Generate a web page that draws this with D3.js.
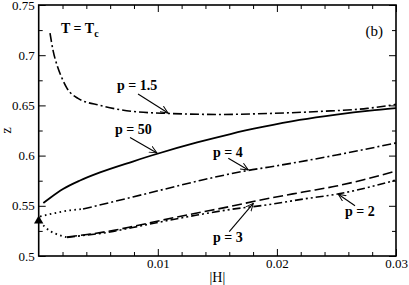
<!DOCTYPE html>
<html>
<head>
<meta charset="utf-8">
<script src="https://cdn.jsdelivr.net/npm/d3@7/dist/d3.min.js"></script>
<style>
body{margin:0;background:#fff}
svg{display:block}
</style>
</head>
<body>
<div id="chart"></div>
<script>
// ticks
const xTicks = [0.01, 0.02, 0.03];
const xTickLabels = ["0.01", "0.02", "0.03"];
const xMinor = [0.002, 0.004, 0.006, 0.008, 0.012, 0.014, 0.016, 0.018, 0.022, 0.024, 0.026, 0.028];
const yTicks = [0.5, 0.55, 0.6, 0.65, 0.7, 0.75];
const yTickLabels = ["0.5", "0.55", "0.6", "0.65", "0.7", "0.75"];
const yMinor = [0.525, 0.575, 0.625, 0.675, 0.725];

// curves [|H|, z]
const p15 = [[0.00095,0.722],[0.0012,0.705],[0.00154,0.690],[0.00196,0.677],[0.00238,0.667],[0.0033,0.657],
  [0.00515,0.650],[0.0079,0.644],[0.0109,0.642],[0.0152,0.641],[0.0194,0.642],[0.0236,0.644],[0.0276,0.647],[0.030,0.651]];
const p50 = [[0.00039,0.5528],[0.00095,0.5578],[0.00204,0.5667],[0.00347,0.5752],[0.00515,0.5832],[0.0079,0.5941],
  [0.0099,0.6016],[0.0133,0.6131],[0.0161,0.6215],[0.0188,0.6285],[0.0219,0.6355],[0.0250,0.6409],[0.0278,0.6449],[0.030,0.6474]];
const p4 = [[0.00372,0.5468],[0.00599,0.5533],[0.0079,0.5588],[0.01044,0.5662],[0.01355,0.5752],[0.01757,0.5852],
  [0.0194,0.5887],[0.0250,0.6006],[0.030,0.6126]];
const p4Dot = [[0.00011,0.5393],[0.00137,0.5428],[0.00263,0.5455],[0.00372,0.5468]];
const p3 = [[0.00238,0.5189],[0.00406,0.5214],[0.00599,0.5249],[0.0079,0.5294],[0.01044,0.5359],[0.0133,0.5428],
  [0.01607,0.5493],[0.01884,0.5563],[0.0222,0.5637],[0.0250,0.5697],[0.0272,0.5757],[0.030,0.5847]];
const p2 = [[0.00238,0.5184],[0.00406,0.5209],[0.00599,0.5239],[0.0079,0.5284],[0.01044,0.5344],[0.0133,0.5408],
  [0.01607,0.5463],[0.0194,0.5513],[0.0222,0.5567],[0.0253,0.5622],[0.0278,0.5687],[0.030,0.5757]];
const lowDot = [[0.0001,0.5344],[0.00053,0.5289],[0.00095,0.5249],[0.00137,0.5224],[0.00196,0.5199],[0.00238,0.5187]];
const triangle = [0, 0.535];

// annotations
const labelNames = ["p = 1.5", "p = 50", "p = 4", "p = 3", "p = 2"];
const labelPos = [[0.00657,0.6658],[0.00641,0.6215],[0.01463,0.5991],[0.01463,0.5139],[0.02572,0.5403]];
const arrowFrom = [[0.00834,0.6614],[0.00767,0.6180],[0.01592,0.5973],[0.0160,0.5242],[0.02656,0.5501]];
const arrowTo = [[0.01086,0.6424],[0.00993,0.6026],[0.0176,0.5857],[0.01802,0.5525],[0.02515,0.5615]];
const tcPos = [0.00187, 0.7221];
const panelPos = [0.0289, 0.7191];

const width = 409, height = 285;
const marginTop = 5, marginRight = 13, marginBottom = 29, marginLeft = 38.7;
const serif = "'Liberation Serif', 'Times New Roman', Times, serif";

const x = d3.scaleLinear().domain([0, 0.03]).range([marginLeft, width - marginRight]);
const y = d3.scaleLinear().domain([0.5, 0.75]).range([height - marginBottom, marginTop]);

const svg = d3.select("#chart").append("svg")
  .attr("width", width).attr("height", height)
  .attr("viewBox", [0, 0, width, height])
  .attr("font-family", serif);

svg.append("defs").append("marker")
  .attr("id", "arr")
  .attr("markerUnits", "userSpaceOnUse")
  .attr("viewBox", "0 0 10 10")
  .attr("refX", 9.5).attr("refY", 5)
  .attr("markerWidth", 8).attr("markerHeight", 8)
  .attr("orient", "auto")
  .append("path")
  .attr("d", "M0,0.8L9.5,5L0,9.2")
  .attr("fill", "none").attr("stroke", "#000").attr("stroke-width", 1.2);

const line = d3.line().x(d => x(d[0])).y(d => y(d[1])).curve(d3.curveMonotoneX);

const curves = [
  {data: p15, dash: "9,3,2,3", w: 1.6},
  {data: p50, dash: null, w: 1.8},
  {data: p4, dash: "9,3,2,3", w: 1.6},
  {data: p4Dot, dash: "1.6,3.4", w: 1.8},
  {data: p3, dash: "10,4", w: 1.6},
  {data: p2, dash: "8,3,2,3,2,3", w: 1.6},
  {data: lowDot, dash: "1.6,3.4", w: 1.8}
];

svg.append("g").selectAll("path")
  .data(curves)
  .join("path")
  .attr("fill", "none")
  .attr("stroke", "#000")
  .attr("stroke-width", d => d.w)
  .attr("stroke-dasharray", d => d.dash)
  .attr("d", d => line(d.data));

// triangle at H = 0
svg.append("path")
  .attr("d", d3.symbol(d3.symbolTriangle, 38)())
  .attr("transform", `translate(${x(triangle[0])},${y(triangle[1])})`)
  .attr("fill", "#000");

// axes: major and minor ticks point inward on all four sides
const major = 7, minor = 4;
const fmtX = (d, i) => xTickLabels[i];
const fmtY = (d, i) => yTickLabels[i];

function tidy(g) {
  g.attr("font-family", serif).attr("font-size", 13);
  g.select(".domain").remove();
}

svg.append("g")
  .attr("transform", `translate(0,${height - marginBottom})`)
  .call(d3.axisBottom(x).tickValues(xTicks).tickFormat(fmtX).tickSize(-major).tickPadding(3))
  .call(tidy);
svg.append("g")
  .attr("transform", `translate(0,${height - marginBottom})`)
  .call(d3.axisBottom(x).tickValues(xMinor).tickFormat("").tickSize(-minor))
  .call(tidy);
svg.append("g")
  .attr("transform", `translate(0,${marginTop})`)
  .call(d3.axisTop(x).tickValues(xTicks).tickFormat("").tickSize(-major))
  .call(tidy);
svg.append("g")
  .attr("transform", `translate(0,${marginTop})`)
  .call(d3.axisTop(x).tickValues(xMinor).tickFormat("").tickSize(-minor))
  .call(tidy);

svg.append("g")
  .attr("transform", `translate(${marginLeft},0)`)
  .call(d3.axisLeft(y).tickValues(yTicks).tickFormat(fmtY).tickSize(-major).tickPadding(4))
  .call(tidy);
svg.append("g")
  .attr("transform", `translate(${marginLeft},0)`)
  .call(d3.axisLeft(y).tickValues(yMinor).tickFormat("").tickSize(-minor))
  .call(tidy);
svg.append("g")
  .attr("transform", `translate(${width - marginRight},0)`)
  .call(d3.axisRight(y).tickValues(yTicks).tickFormat("").tickSize(-major))
  .call(tidy);
svg.append("g")
  .attr("transform", `translate(${width - marginRight},0)`)
  .call(d3.axisRight(y).tickValues(yMinor).tickFormat("").tickSize(-minor))
  .call(tidy);

svg.selectAll(".tick line").attr("stroke", "#000").attr("stroke-width", 1);
svg.selectAll(".tick text").attr("fill", "#000");

// frame
svg.append("rect")
  .attr("x", marginLeft).attr("y", marginTop)
  .attr("width", width - marginLeft - marginRight)
  .attr("height", height - marginTop - marginBottom)
  .attr("fill", "none").attr("stroke", "#000").attr("stroke-width", 1.6);

// axis titles
svg.append("text")
  .attr("x", (marginLeft + width - marginRight) / 2)
  .attr("y", height - 3)
  .attr("text-anchor", "middle")
  .attr("font-size", 14)
  .text("|H|");
svg.append("text")
  .attr("transform", `translate(11,${(marginTop + height - marginBottom) / 2}) rotate(-90)`)
  .attr("text-anchor", "middle")
  .attr("font-size", 14)
  .text("z");

// annotations
const tc = svg.append("text")
  .attr("x", x(tcPos[0])).attr("y", y(tcPos[1]))
  .attr("font-size", 14).attr("font-weight", "bold");
tc.append("tspan").text("T = T");
tc.append("tspan").attr("font-size", 10).attr("dy", 4).text("c");

svg.append("text")
  .attr("x", x(panelPos[0])).attr("y", y(panelPos[1]))
  .attr("text-anchor", "end")
  .attr("font-size", 15)
  .text("(b)");

svg.append("g").selectAll("text")
  .data(labelNames)
  .join("text")
  .attr("x", (d, i) => x(labelPos[i][0]))
  .attr("y", (d, i) => y(labelPos[i][1]))
  .attr("font-size", 14).attr("font-weight", "bold")
  .text(d => d);

svg.append("g").selectAll("line")
  .data(arrowFrom)
  .join("line")
  .attr("x1", d => x(d[0])).attr("y1", d => y(d[1]))
  .attr("x2", (d, i) => x(arrowTo[i][0])).attr("y2", (d, i) => y(arrowTo[i][1]))
  .attr("stroke", "#000").attr("stroke-width", 1.1)
  .attr("marker-end", "url(#arr)");
</script>
</body>
</html>
